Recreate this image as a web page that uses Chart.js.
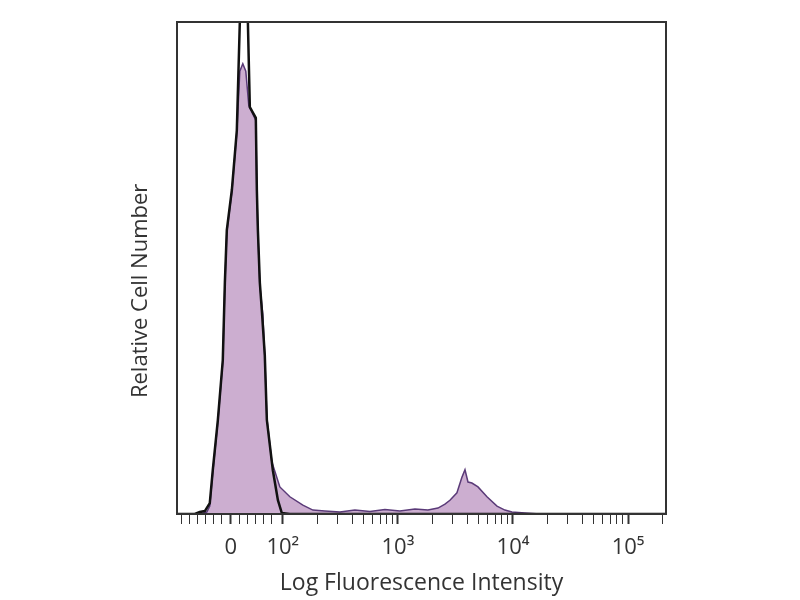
<!DOCTYPE html>
<html>
<head>
<meta charset="utf-8">
<script src="https://cdn.jsdelivr.net/npm/chart.js@4.4.1/dist/chart.umd.min.js"></script>
<style>
  html, body { margin: 0; background: #fff; }
</style>
</head>
<body>
<canvas id="histChart" width="800" height="600"></canvas>
<script>
// x values are display positions on the biexponential axis (2 = 10^2, 3 = 10^3, ...)
// y values are relative cell number, 0-100 (peaks above 100 run off the top)
const controlX = [1.08, 1.235, 1.278, 1.322, 1.365, 1.391, 1.435, 1.478, 1.496, 1.513, 1.557, 1.600, 1.626, 1.661,
    1.696, 1.713, 1.765, 1.774, 1.783, 1.800, 1.817, 1.843, 1.861, 1.913, 1.957, 1.991, 2.061, 5.33];
const controlY = [0, 0, 0.4, 0.6, 2.2, 8.9, 19.1, 31.3, 47.0, 57.7, 65.9, 78.0, 100, 120,
    100, 82.7, 80.5, 65.9, 57.7, 47.0, 41.5, 32.3, 19.1, 8.9, 2.8, 0.2, 0, 0];

const stainedX = [1.278, 1.339, 1.365, 1.391, 1.435, 1.478, 1.496, 1.513, 1.557, 1.600, 1.626, 1.652, 1.678, 1.704,
    1.765, 1.774, 1.783, 1.800, 1.826, 1.843, 1.861, 1.904, 1.974, 2.061, 2.174, 2.261, 2.365, 2.496, 2.626, 2.757,
    2.887, 3.017, 3.148, 3.261, 3.348, 3.409, 3.452, 3.513, 3.557, 3.583, 3.609, 3.643, 3.696, 3.774, 3.861, 3.930,
    3.991, 4.104, 4.235, 5.33];
const stainedY = [0, 0.4, 1.6, 8.5, 18.7, 30.9, 46.5, 57.3, 65.5, 77.6, 90, 91.5, 90, 83,
    80, 65.5, 57.3, 46.5, 40.6, 32, 19.5, 10.6, 5.5, 3.5, 1.8, 0.8, 0.6, 0.4, 0.8, 0.5,
    0.9, 0.6, 1.0, 0.8, 1.2, 2.0, 2.8, 4.3, 7.5, 9.0, 6.5, 6.3, 5.5, 3.5, 1.6, 0.8,
    0.4, 0.2, 0, 0];

const tickValues = [1.548, 2, 3, 4, 5];
const tickLabels = ['0', '10²', '10³', '10⁴', '10⁵'];
const linearMinorTicks = [1.12, 1.19, 1.26, 1.33, 1.40, 1.47, 1.62, 1.69, 1.76, 1.83, 1.90];

const toPoints = (xs, ys) => xs.map((x, i) => ({ x: x, y: ys[i] }));

// log minor ticks 2..9 in each decade
const minorTicks = linearMinorTicks.slice();
for (let d = 2; d <= 5; d++) {
    for (let k = 2; k <= 9; k++) {
        const v = d + Math.log10(k);
        if (v < 5.33) minorTicks.push(v);
    }
}

const isMajor = v => tickValues.some(t => Math.abs(t - v) < 1e-6);

const framePlugin = {
    id: 'frame',
    afterDraw(chart) {
        const { ctx, chartArea: a } = chart;
        ctx.save();
        ctx.strokeStyle = '#333';
        ctx.lineWidth = 2;
        ctx.strokeRect(a.left, a.top, a.right - a.left, a.bottom - a.top);
        ctx.restore();
    }
};

const family = '"Open Sans", sans-serif';

new Chart(document.getElementById('histChart').getContext('2d'), {
    type: 'line',
    data: {
        datasets: [{
            label: 'Isotype control',
            data: toPoints(controlX, controlY),
            borderColor: '#111',
            borderWidth: 2.5,
            fill: false,
            pointRadius: 0,
            tension: 0
        }, {
            label: 'Stained',
            data: toPoints(stainedX, stainedY),
            borderColor: '#5a3a78',
            borderWidth: 1.5,
            backgroundColor: '#ccaed0',
            fill: 'origin',
            pointRadius: 0,
            tension: 0
        }]
    },
    options: {
        responsive: false,
        animation: false,
        layout: { padding: { left: 120, right: 134, top: 22, bottom: 0 } },
        plugins: {
            legend: { display: false },
            tooltip: { enabled: false }
        },
        scales: {
            x: {
                type: 'linear',
                min: 1.08,
                max: 5.33,
                afterBuildTicks: scale => {
                    scale.ticks = tickValues.concat(minorTicks)
                        .sort((a, b) => a - b)
                        .map(v => ({ value: v }));
                },
                afterFit: scale => { scale.height = 86; },
                ticks: {
                    autoSkip: false,
                    maxRotation: 0,
                    padding: 11,
                    color: '#333',
                    font: { family: family, size: 22 },
                    callback: value => {
                        const i = tickValues.findIndex(t => Math.abs(t - value) < 1e-6);
                        return i >= 0 ? tickLabels[i] : '';
                    }
                },
                grid: {
                    drawOnChartArea: false,
                    drawTicks: true,
                    tickLength: 10,
                    tickColor: '#333',
                    tickWidth: ctx => (ctx.tick && isMajor(ctx.tick.value)) ? 2 : 1
                },
                border: { display: true, color: '#222', width: 2 },
                title: {
                    display: true,
                    text: 'Log Fluorescence Intensity',
                    color: '#333',
                    font: { family: family, size: 23 },
                    padding: { top: 0, bottom: 3 }
                }
            },
            y: {
                min: 0,
                max: 100,
                afterFit: scale => { scale.width = 57; },
                ticks: { display: false },
                grid: { drawOnChartArea: false, drawTicks: false },
                border: { display: true, color: '#222', width: 2 },
                title: {
                    display: true,
                    // trailing spaces nudge the label a bit below the plot's middle, as in the original
                    text: 'Relative Cell Number        ',
                    color: '#333',
                    font: { family: family, size: 22 },
                    padding: { top: 8, bottom: 0 }
                }
            }
        }
    },
    plugins: [framePlugin]
});
</script>
</body>
</html>
